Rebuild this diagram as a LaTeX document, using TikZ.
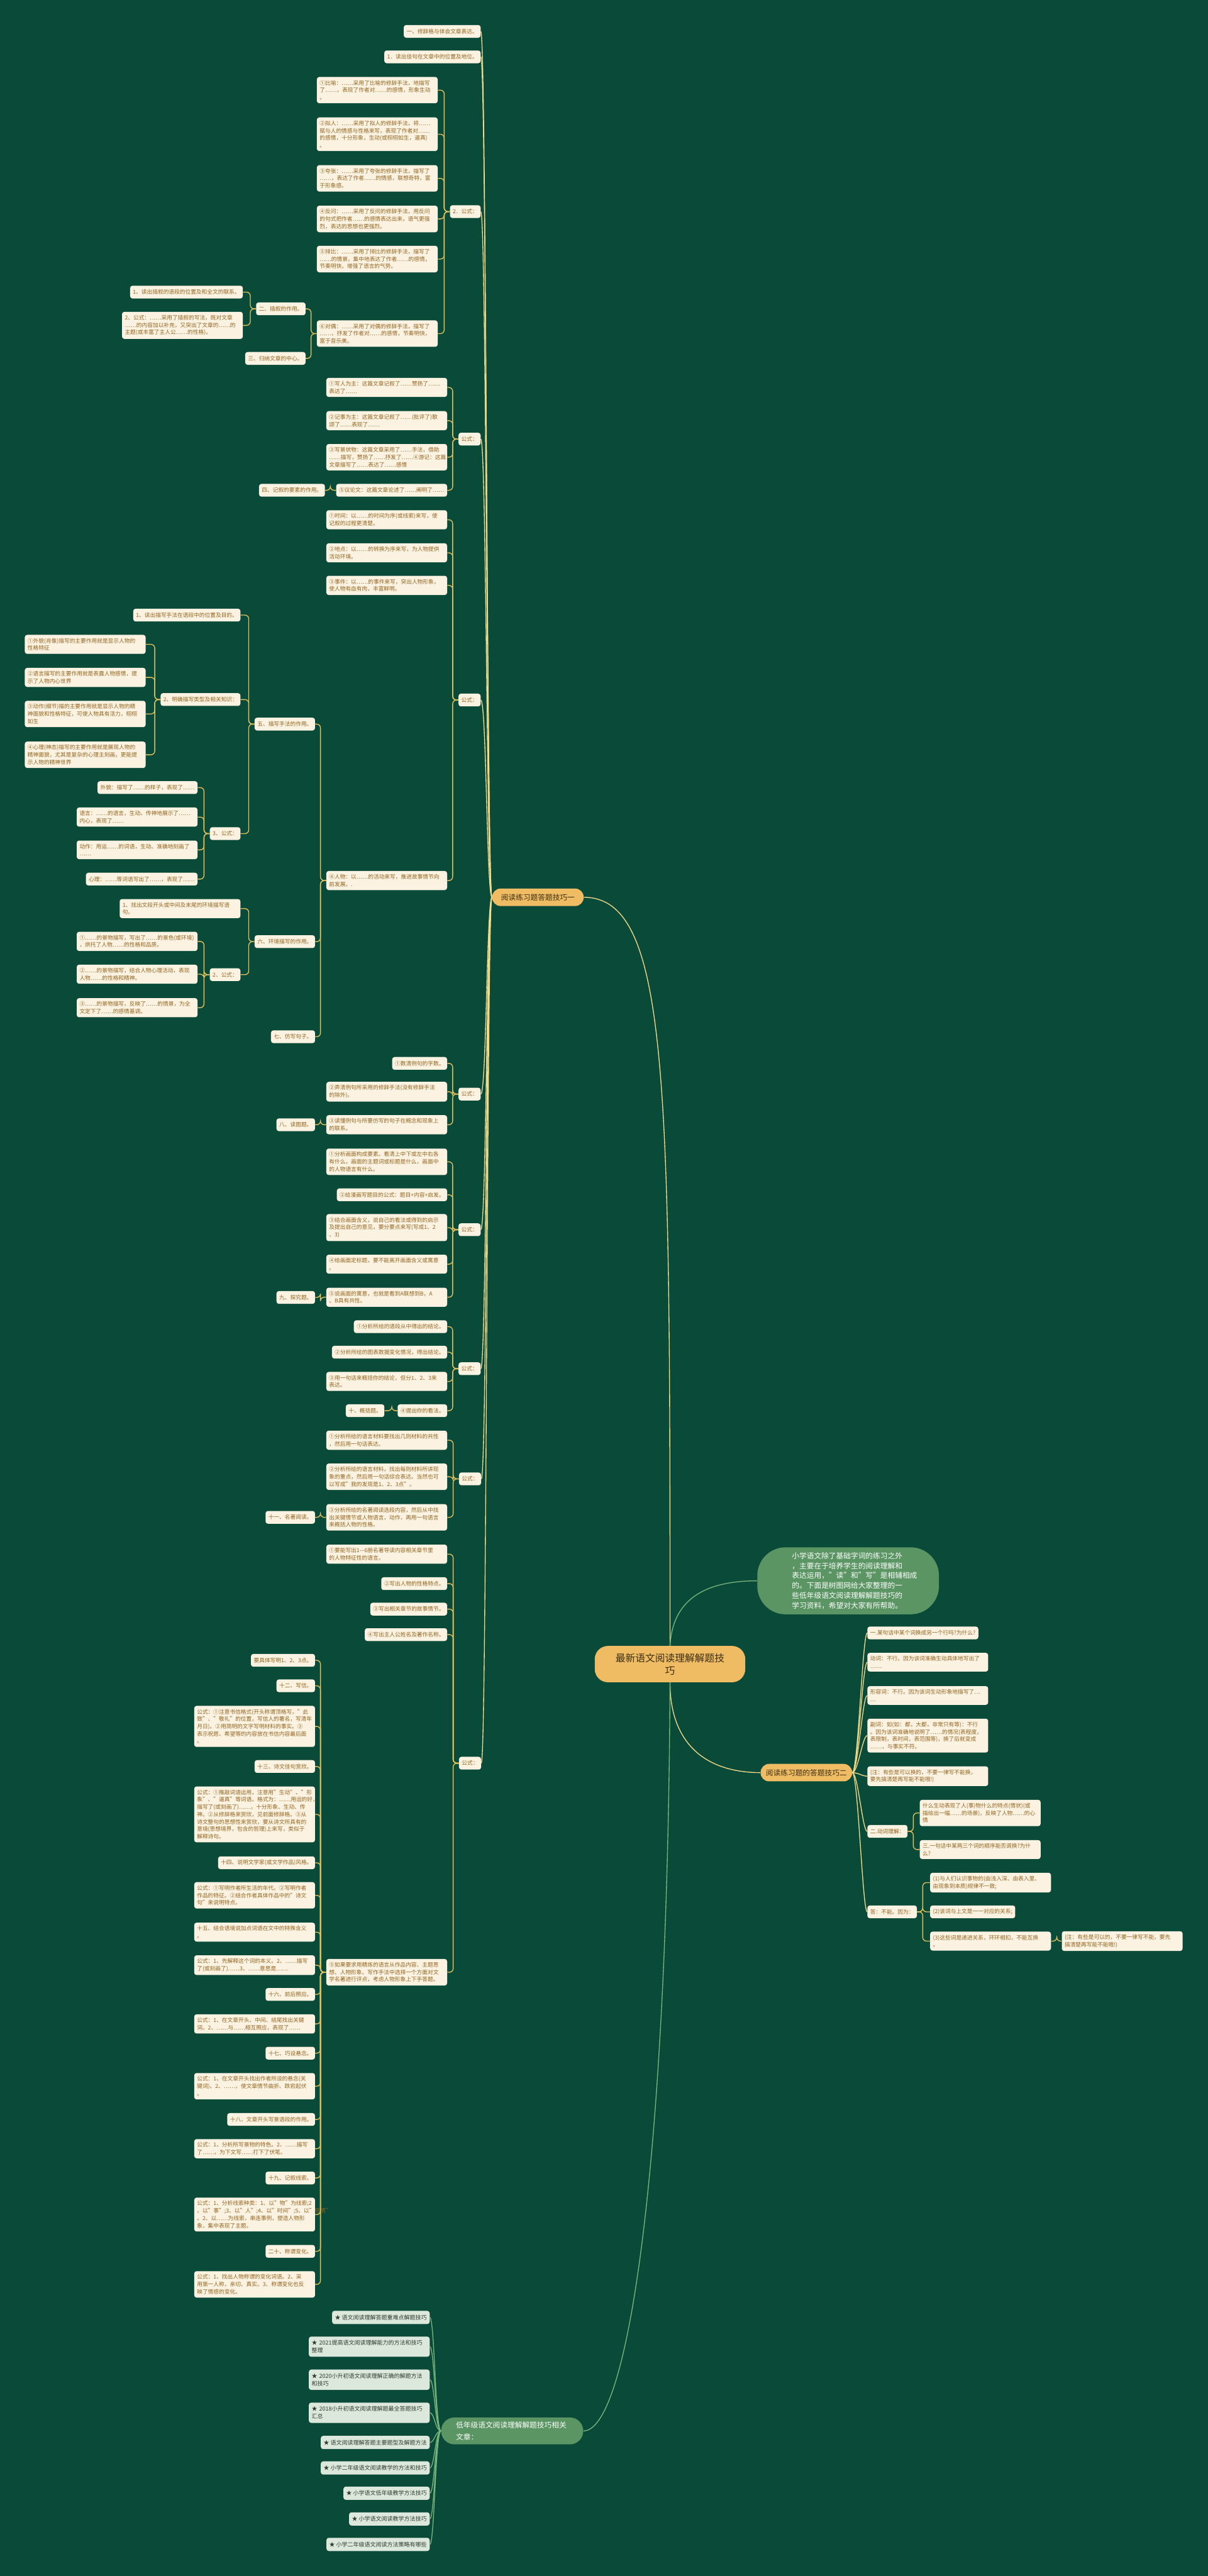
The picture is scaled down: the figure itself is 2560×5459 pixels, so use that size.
\documentclass[tikz,border=0pt]{standalone}
\usepackage{fontspec}
\setmainfont{Noto Sans CJK SC}
\definecolor{bg}{HTML}{0A4A39}
\definecolor{cream}{HTML}{FCF2E2}
\definecolor{leaftext}{HTML}{93641D}
\definecolor{gold}{HTML}{E2C15C}
\definecolor{trunkc}{HTML}{EFD98A}
\definecolor{orange}{HTML}{EFBC63}
\definecolor{darktext}{HTML}{3B2F14}
\definecolor{leafgreen}{HTML}{5A9563}
\definecolor{glinkc}{HTML}{78B47B}
\definecolor{itemc}{HTML}{DDE8DC}
\definecolor{itemtext}{HTML}{2F3A30}
\newcommand\leaffont{\fontsize{5.8pt}{7.8pt}\selectfont}
\newcommand\itemfont{\fontsize{6pt}{8pt}\selectfont}
\tikzset{
  leaf/.style={fill=cream, text=leaftext, rounded corners=2.5pt, inner xsep=3pt,
    inner ysep=3.5pt, minimum height=13.5pt, align=left, font=\leaffont, anchor=east},
  rleaf/.style={leaf, anchor=west},
  wide/.style={text width=122pt},
  item/.style={fill=itemc, text=itemtext, rounded corners=2.5pt, inner xsep=3pt,
    inner ysep=4pt, minimum height=14pt, align=left, font=\itemfont, anchor=east},
  branch/.style={fill=orange, text=darktext, font=\fontsize{7.8pt}{9pt}\selectfont,
    minimum width=97pt, minimum height=18.5pt, rounded corners=9pt},
  link/.style={draw=gold, line width=0.9pt, rounded corners=4pt},
  trunk/.style={draw=trunkc, line width=0.9pt},
  glink/.style={draw=glinkc, line width=0.9pt}
}
\begin{document}
\begin{tikzpicture}[x=0.5pt,y=-0.5pt]
  \useasboundingbox[fill=bg] (0,0) rectangle (2560,5459);

  % root and main branches
  \node[fill=orange, text=darktext, font=\fontsize{10.5pt}{13.5pt}\selectfont, text width=116pt,
    align=center, minimum width=159.5pt, minimum height=38.5pt, rounded corners=14pt]
    (root) at (1420,3526.5) {最新语文阅读理解解题技\\巧};
  \node[fill=leafgreen, text=white, font=\fontsize{7.8pt}{10.6pt}\selectfont, text width=119pt,
    align=left, minimum width=192.5pt, minimum height=71pt, rounded corners=30pt]
    (intro) at (1797.5,3350) {小学语文除了基础字词的练习之外\\，主要在于培养学生的阅读理解和\\表达运用，"读"和"写"是相辅相成\\的。下面是树图网给大家整理的一\\些低年级语文阅读理解解题技巧的\\学习资料，希望对大家有所帮助。};
  \node[branch] (b1) at (1140,1901.5) {阅读练习题答题技巧一};
  \node[branch] (b2) at (1709,3756.5) {阅读练习题的答题技巧二};
  \node[fill=leafgreen, text=white, font=\fontsize{7.8pt}{12.9pt}\selectfont, text width=119pt,
    align=left, minimum width=150.5pt, minimum height=28.5pt, rounded corners=14pt]
    (b3) at (1085.5,5151.5) {低年级语文阅读理解解题技巧相关\\文章：};

  \draw[trunk] (root.north) .. controls (1420,2300) and (1420,1902) .. (b1.east);
  \draw[glink] (root.north) .. controls (1425,3400) and (1480,3350) .. (intro.west);
  \draw[trunk] (root.south) .. controls (1420,3690) and (1490,3756) .. (b2.west);
  \draw[glink] (root.south) .. controls (1415,4600) and (1330,5152) .. (b3.east);

  % branch one
  \node[leaf] (n01) at (1019,66.5) {一、修辞格与体会文章表达。};
  \node[leaf] (n02) at (1019,120.5) {1．读出佳句在文章中的位置及地位。};
  \node[leaf] (n03) at (1019,448.5) {2．公式：};
  \node[leaf,wide] (n04) at (928,191) {①比喻：……采用了比喻的修辞手法，地描写\\了……，表现了作者对……的感情，形象生动\\。};
  \node[leaf,wide] (n05) at (928,284.5) {②拟人：……采用了拟人的修辞手法，将……\\赋与人的情感与性格来写，表现了作者对……\\的感情，十分形象，生动(或栩栩如生，逼真)\\。};
  \node[leaf,wide] (n06) at (928,378) {③夸张：……采用了夸张的修辞手法，描写了\\……，表达了作者……的情感，联想奇特，富\\于形象感。};
  \node[leaf,wide] (n07) at (928,464) {④反问：……采用了反问的修辞手法，用反问\\的句式把作者……的感情表达出来，语气更强\\烈，表达的思想也更强烈。};
  \node[leaf,wide] (n08) at (928,549) {⑤排比：……采用了排比的修辞手法，描写了\\……的情景，集中地表达了作者……的感情，\\节奏明快，增强了语言的气势。};
  \node[leaf,wide] (n09) at (928,707) {⑥对偶：……采用了对偶的修辞手法，描写了\\……，抒发了作者对……的感情，节奏明快，\\富于音乐美。};
  \node[leaf] (n10) at (648,654.5) {二、插叙的作用。};
  \node[leaf] (n11) at (648,759.5) {三、归纳文章的中心。};
  \node[leaf] (n12) at (515,619) {1、读出插叙的语段的位置及和全文的联系。};
  \node[leaf,wide] (n13) at (515,689.5) {2、公式：……采用了插叙的写法，既对文章\\……的内容加以补充，又突出了文章的……的\\主题(或丰富了主人公……的性格)。};

  \node[leaf] (n14) at (1019,930.5) {公式：};
  \node[leaf,wide] (n15) at (948,821) {①写人为主：这篇文章记叙了……赞扬了……\\表达了……};
  \node[leaf,wide] (n16) at (948,891.5) {②记事为主：这篇文章记叙了……(批评了)歌\\颂了……表现了……};
  \node[leaf,wide] (n17) at (948,969) {③写景状物：这篇文章采用了……手法，借助\\……描写，赞扬了……抒发了……④游记：这篇\\文章描写了……表达了……感情};
  \node[leaf] (n18) at (948,1039) {⑤议论文：这篇文章论述了……阐明了……};
  \node[leaf] (n19) at (689,1039) {四、记叙的要素的作用。};

  \node[leaf] (n20) at (1019,1483.5) {公式：};
  \node[leaf,wide] (n21) at (948,1101.5) {①时间：以……的时间为序(或线索)来写，使\\记叙的过程更清楚。};
  \node[leaf,wide] (n22) at (948,1171.5) {②地点：以……的转换为序来写，为人物提供\\活动环境。};
  \node[leaf,wide] (n23) at (948,1240.5) {③事件：以……的事件来写，突出人物形象，\\使人物有血有肉，丰富鲜明。};
  \node[leaf,wide] (n24) at (948,1866) {④人物：以……的活动来写，推进故事情节向\\前发展。.};
  \node[leaf] (n25) at (668,1534.5) {五、描写手法的作用。};
  \node[leaf] (n26) at (668,1995.5) {六、环境描写的作用。};
  \node[leaf] (n27) at (668,2197) {七、仿写句子。};
  \node[leaf] (n28) at (510,1303.5) {1、读出描写手法在语段中的位置及目的。};
  \node[leaf] (n29) at (510,1482.5) {2、明确描写类型及相关知识：};
  \node[leaf] (n30) at (510,1766.5) {3、公式：};
  \node[leaf,wide] (n31) at (309,1365.5) {①外貌(肖像)描写的主要作用就是显示人物的\\性格特征};
  \node[leaf,wide] (n32) at (309,1435.5) {②语言描写的主要作用就是表露人物感情，提\\示了人物内心世界};
  \node[leaf,wide] (n33) at (309,1513) {③动作(细节)描的主要作用就是显示人物的精\\神面貌和性格特征，可使人物具有活力，栩栩\\如生};
  \node[leaf,wide] (n34) at (309,1599.5) {④心理(神态)描写的主要作用就是展现人物的\\精神面貌，尤其是复杂的心理主刻画，更能提\\示人物的精神世界};
  \node[leaf] (n35) at (419,1669) {外貌：描写了……的样子，表现了……};
  \node[leaf,wide] (n36) at (419,1731.5) {语言：……的语言，生动、传神地展示了……\\内心，表现了……};
  \node[leaf,wide] (n37) at (419,1801) {动作：用运……的词语，生动、准确地刻画了\\……};
  \node[leaf] (n38) at (419,1863) {心理：……等词语写出了……，表现了……};
  \node[leaf,wide] (n39) at (510,1925.5) {1、找出文段开头或中间及末尾的环境描写语\\句。};
  \node[leaf] (n40) at (510,2065.5) {2、公式：};
  \node[leaf,wide] (n41) at (419,1995) {①……的景物描写，写出了……的景色(或环境)\\，烘托了人物……的性格和品质。};
  \node[leaf,wide] (n42) at (419,2064.5) {②……的景物描写，结合人物心理活动，表现\\人物……的性格和精神。};
  \node[leaf,wide] (n43) at (419,2135.5) {③……的景物描写，反映了……的情景，为全\\文定下了……的感情基调。};

  \node[leaf] (n44) at (1019,2318.5) {公式：};
  \node[leaf] (n45) at (948,2253.5) {①数清例句的字数。};
  \node[leaf,wide] (n46) at (948,2313.5) {②弄清例句所采用的修辞手法(没有修辞手法\\的除外)。};
  \node[leaf,wide] (n47) at (948,2383.5) {③读懂例句与所要仿写的句子在概念和现象上\\的联系。};
  \node[leaf] (n48) at (668,2383.5) {八、读图题。};

  \node[leaf] (n49) at (1019,2606) {公式：};
  \node[leaf,wide] (n50) at (948,2462) {①分析画面构成要素。看清上中下或左中右各\\有什么，画面的主题词或标题是什么，画面中\\的人物语言有什么。};
  \node[leaf] (n51) at (948,2532) {②给漫画写题目的公式：题目+内容+启发。};
  \node[leaf,wide] (n52) at (948,2601.5) {③结合画面含义，说自己的看法或得到的启示\\及提出自己的意见，要分要点来写(写成1、2\\、3)};
  \node[leaf,wide] (n53) at (948,2679) {④给画面定标题，要不能离开画面含义或寓意\\。};
  \node[leaf,wide] (n54) at (948,2749) {⑤说画面的寓意，也就是看到A联想到B，A\\、B具有共性。};
  \node[leaf] (n55) at (668,2749.5) {九、探究题。};

  \node[leaf] (n56) at (1019,2900.5) {公式：};
  \node[leaf] (n57) at (948,2811.5) {①分析所给的语段从中得出的结论。};
  \node[leaf] (n58) at (948,2865.5) {②分析所给的图表数据变化情况，得出结论。};
  \node[leaf,wide] (n59) at (948,2927.5) {③用一句话来概括你的结论，但分1、2、3来\\表达。};
  \node[leaf] (n60) at (948,2989.5) {④提出你的看法。};
  \node[leaf] (n61) at (815,2989.5) {十、概括题。};

  \node[leaf] (n62) at (1020,3134) {公式：};
  \node[leaf,wide] (n63) at (948,3052) {①分析所给的语言材料要找出几则材料的共性\\，然后用一句话表达。};
  \node[leaf,wide] (n64) at (948,3129.5) {②分析所给的语言材料，找出每则材料所讲现\\象的重点，然后用一句话综合表达。当然也可\\以写成"我的发现是1、2、3点"。};
  \node[leaf,wide] (n65) at (948,3215.5) {③分析所给的名著阅读选段内容，然后从中找\\出关键情节或人物语言，动作，再用一句语言\\来概括人物的性格。};
  \node[leaf] (n66) at (668,3215.5) {十一、名著阅读。};

  \node[leaf] (n67) at (1020,3736.5) {公式：};
  \node[leaf,wide] (n68) at (948,3293.5) {①要能写出1—6册名著导读内容相关章节里\\的人物特征性的语言。};
  \node[leaf] (n69) at (948,3356) {②写出人物的性格特点。};
  \node[leaf] (n70) at (948,3410) {③写出相关章节的故事情节。};
  \node[leaf] (n71) at (948,3464) {④写出主人公姓名及著作名称。};
  \node[leaf,wide] (n72) at (948,4179.5) {⑤如果要求用精炼的语言从作品内容、主题思\\想、人物形象、写作手法中选择一个方面对文\\学名著进行评点，考虑人物形象上下手答题。};
  \node[leaf] (n73) at (668,3518.5) {要具体写明1、2、3点。};
  \node[leaf] (n74) at (668,3572.5) {十二、写信。};
  \node[leaf,wide] (n75) at (668,3658.5) {公式：①注意书信格式(开头称谓顶格写，"此\\致"、"敬礼"的位置，写信人的署名，写清年\\月日)。②用简明的文字写明材料的事实。③\\表示祝愿、希望等的内容放在书信内容最后面\\。};
  \node[leaf] (n76) at (668,3743.5) {十三、诗文佳句赏欣。};
  \node[leaf,wide] (n77) at (668,3845) {公式：①推敲词语运用，注意用"生动"、"形\\象"、"逼真"等词语。格式为：……用运的好，\\描写了(或刻画了)……，十分形象、生动、传\\神。②从修辞格来赏欣，见前面修辞格。③从\\诗文整句的思想性来赏欣，要从诗文所具有的\\意境(思想境界，包含的哲理)上来写，类似于\\解释诗句。};
  \node[leaf] (n78) at (668,3947.5) {十四、说明文学家(或文学作品)风格。};
  \node[leaf,wide] (n79) at (668,4016.5) {公式：①写明作者所生活的年代。②写明作者\\作品的特征。②结合作者具体作品中的"诗文\\句"来说明特点。};
  \node[leaf,wide] (n80) at (668,4094.5) {十五、结合语境说加点词语在文中的特殊含义\\。};
  \node[leaf,wide] (n81) at (668,4164.5) {公式：1、先解释这个词的本义。2、……描写\\了(或刻画了)……3、……意思是……};
  \node[leaf] (n82) at (668,4226.5) {十六、前后照应。};
  \node[leaf,wide] (n83) at (668,4289) {公式：1、在文章开头、中间、结尾找出关键\\词。2、……与……相互照应，表现了……};
  \node[leaf] (n84) at (668,4351) {十七、巧设悬念。};
  \node[leaf,wide] (n85) at (668,4421) {公式：1、在文章开头找出作者所设的悬念(关\\键词)。2、……，使文章情节曲折、跌宕起伏\\。};
  \node[leaf] (n86) at (668,4491.5) {十八、文章开头写景语段的作用。};
  \node[leaf,wide] (n87) at (668,4553.5) {公式：1、分析所写景物的特色。2、……描写\\了……，为下文写……打下了伏笔。};
  \node[leaf] (n88) at (668,4615.5) {十九、记叙线索。};
  \node[leaf,wide] (n89) at (668,4693) {公式：1、分析线索种类：1、以"物"为线索;2\\、以"事";3、以"人";4、以"时间";5、以"感情"\\。2、以……为线索，串连事例，塑造人物形\\象，集中表现了主题。};
  \node[leaf] (n90) at (668,4771) {二十、称谓变化。};
  \node[leaf,wide] (n91) at (668,4841) {公式：1、找出人物称谓的变化词语。2、采\\用第一人称，亲切、真实。3、称谓变化也反\\映了情感的变化。};

  \foreach \c in {n01,n02,n03,n14,n20,n44,n49,n56,n62,n67}
    \draw[trunk] (b1.west) .. controls +(-11,0) and +(12,0) .. (\c.east);
  \foreach \p/\c in {n03/n04,n03/n05,n03/n06,n03/n07,n03/n08,n03/n09,n09/n10,n09/n11,
      n10/n12,n10/n13,n14/n15,n14/n16,n14/n17,n14/n18,n18/n19,n20/n21,n20/n22,n20/n23,
      n20/n24,n24/n25,n24/n26,n24/n27,n25/n28,n25/n29,n25/n30,n29/n31,n29/n32,n29/n33,
      n29/n34,n30/n35,n30/n36,n30/n37,n30/n38,n26/n39,n26/n40,n40/n41,n40/n42,n40/n43,
      n44/n45,n44/n46,n44/n47,n47/n48,n49/n50,n49/n51,n49/n52,n49/n53,n49/n54,n54/n55,
      n56/n57,n56/n58,n56/n59,n56/n60,n60/n61,n62/n63,n62/n64,n62/n65,n65/n66,
      n67/n68,n67/n69,n67/n70,n67/n71,n67/n72}
    \draw[link] (\p.west) -- ++(-12,0) |- (\c.east);
  \foreach \c in {n73,n74,n75,n76,n77,n78,n79,n80,n81,n82,n83,n84,n85,n86,n87,n88,n89,n90,n91}
    \draw[link] (n72.west) -- ++(-12,0) |- (\c.east);

  % branch two
  \node[rleaf] (m1) at (1838,3460.5) {一.某句话中某个词换成另一个行吗?为什么?};
  \node[rleaf,wide] (m2) at (1838,3522.5) {动词：不行。因为该词准确生动具体地写出了\\……};
  \node[rleaf,wide] (m3) at (1838,3593) {形容词：不行。因为该词生动形象地描写了…\\…};
  \node[rleaf,wide] (m4) at (1838,3678) {副词：如(如：都，大都，非常只有等)：不行\\。因为该词准确地说明了……的情况(表程度，\\表限制，表时间，表范围等)，换了后就变成\\……，与事实不符。};
  \node[rleaf,wide] (m5) at (1838,3764) {(注：有些是可以换的，不要一律写不能换，\\要先搞清楚再写能不能哦!)};
  \node[rleaf] (m6) at (1838,3881) {二.动词理解：};
  \node[rleaf,wide] (m7) at (1949,3842) {什么生动表现了人(事)物什么的特点(情状)(或\\描绘出一幅……的场景)，反映了人物……的心\\情};
  \node[rleaf,wide] (m8) at (1949,3919.5) {三.一句话中某两三个词的顺序能否调换?为什\\么?};
  \node[rleaf] (m9) at (1838,4051.5) {答：不能。因为：};
  \node[rleaf,wide] (m10) at (1971,3989.5) {(1)与人们认识事物的(由浅入深、由表入里、\\由现象到本质)规律不一致;};
  \node[rleaf] (m11) at (1971,4051.5) {(2)该词与上文是一一对应的关系;};
  \node[rleaf,wide] (m12) at (1971,4113.5) {(3)这些词是递进关系，环环相扣，不能互换\\。};
  \node[rleaf,wide] (m13) at (2250,4113.5) {(注：有些是可以的，不要一律写不能，要先\\搞清楚再写能不能哦!)};

  \foreach \c in {m1,m2,m3,m4,m5,m6,m9}
    \draw[trunk] (b2.east) .. controls +(12,0) and +(-10,0) .. (\c.west);
  \foreach \p/\c in {m6/m7,m6/m8,m9/m10,m9/m11,m9/m12,m12/m13}
    \draw[link] (\p.east) -- ++(12,0) |- (\c.west);

  % branch three
  \node[item] (k1) at (911,4911) {★ 语文阅读理解答题重难点解题技巧};
  \node[item,wide] (k2) at (911,4973) {★ 2021提高语文阅读理解能力的方法和技巧\\整理};
  \node[item,wide] (k3) at (911,5043) {★ 2020小升初语文阅读理解正确的解题方法\\和技巧};
  \node[item,wide] (k4) at (911,5113) {★ 2018小升初语文阅读理解题最全答题技巧\\汇总};
  \node[item] (k5) at (911,5176) {★ 语文阅读理解答题主要题型及解题方法};
  \node[item] (k6) at (911,5230) {★ 小学二年级语文阅读教学的方法和技巧};
  \node[item] (k7) at (911,5283.5) {★ 小学语文低年级教学方法技巧};
  \node[item] (k8) at (911,5338) {★ 小学语文阅读教学方法技巧};
  \node[item] (k9) at (911,5392) {★ 小学二年级语文阅读方法策略有哪些};

  \foreach \c in {k1,k2,k3,k4,k5,k6,k7,k8,k9}
    \draw[glink] (b3.west) .. controls +(-12,0) and +(10,0) .. (\c.east);
\end{tikzpicture}
\end{document}
